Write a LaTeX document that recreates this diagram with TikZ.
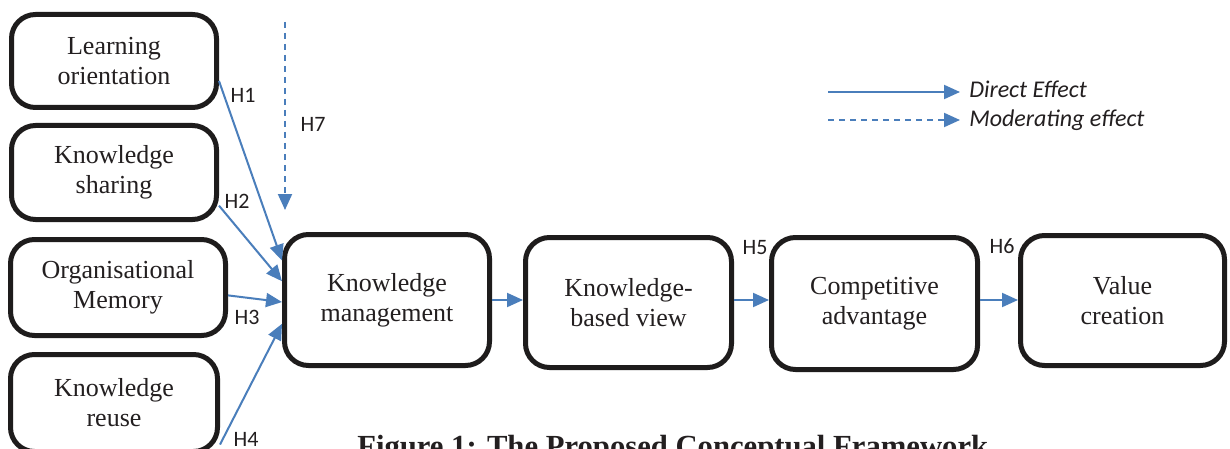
\documentclass[tikz,border=0pt]{standalone}
\usepackage{fontspec}
\setmainfont{Liberation Serif}
\newfontfamily\calib{Carlito}
\usetikzlibrary{arrows.meta,calc}
\definecolor{arrblue}{RGB}{74,126,187}
\definecolor{boxdark}{RGB}{30,28,28}
\definecolor{textdark}{RGB}{35,31,32}
\begin{document}
\begin{tikzpicture}[x=0.75pt,y=-0.75pt,
  box/.style={draw=boxdark, line width=3.75pt, rounded corners=18pt, inner sep=0pt,
    align=center, text=textdark, font=\fontsize{19.5}{22.5}\selectfont},
  arr/.style={draw=arrblue, line width=1.5pt, -{Triangle[length=12pt,width=10.5pt]}},
  modarr/.style={arr, dash pattern=on 4.5pt off 3.75pt},
  lbl/.style={font=\calib\fontsize{16.5}{20}\selectfont, text=textdark, inner sep=0pt},
  legtxt/.style={font=\calib\itshape\fontsize{18}{21}\selectfont, text=textdark, inner sep=0pt, anchor=west}]
\useasboundingbox (0,0) rectangle (1230,449);
\clip (0,0) rectangle (1230,449);
\fill[white] (0,0) rectangle (1230,449);

% boxes
\node[box, minimum width=205*0.75pt, minimum height=93*0.75pt] (LO) at (114,61) {Learning\\orientation};
\node[box, minimum width=205*0.75pt, minimum height=94*0.75pt] (KS) at (114,172.5) {Knowledge\\sharing};
\node[box, minimum width=215*0.75pt, minimum height=96*0.75pt] (OM) at (118,287.5) {Organisational\\Memory};
\node[box, minimum width=207*0.75pt, minimum height=97*0.75pt] (KR) at (114,403) {Knowledge\\reuse};
\node[box, minimum width=205*0.75pt, minimum height=131*0.75pt] (KM) at (387,300) {Knowledge\\management};
\node[box, minimum width=206*0.75pt, minimum height=130*0.75pt] (KBV) at (628.5,302.5) {Knowledge-\\based view};
\node[box, minimum width=206*0.75pt, minimum height=132*0.75pt] (CA) at (874.5,303.5) {Competitive\\advantage};
\node[box, minimum width=204*0.75pt, minimum height=130*0.75pt] (VC) at (1122.5,300.5) {Value\\creation};

% direct effects into KM
\draw[arr] ($(LO.north east)!0.704!(LO.south east)$) -- ($(KM.north west)!0.21!(KM.south west)$);
\draw[arr] ($(KS.north east)!0.835!(KS.south east)$) -- ($(KM.north west)!0.362!(KM.south west)$);
\draw[arr] ($(OM.north east)!0.578!(OM.south east)$) -- ($(KM.north west)!0.515!(KM.south west)$);
\draw[arr] ($(KR.north east)!0.907!(KR.south east)$) -- ($(KM.north west)!0.675!(KM.south west)$);

% chain
\draw[arr] (KM.east) -- (KM.east -| KBV.west);
\draw[arr] (KM.east -| KBV.east) -- (KM.east -| CA.west);
\draw[arr] (KM.east -| CA.east) -- (KM.east -| VC.west);

% moderating
\coordinate (h7s) at (285,22);
\coordinate (h7e) at (285,210);
\draw[modarr] (h7s) -- (h7e);

% labels
\node[lbl] (l1) at (243,95) {H1};
\node[lbl] (l2) at (237,201) {H2};
\node[lbl] (l3) at (247,317) {H3};
\node[lbl] (l4) at (246,439) {H4};
\node[lbl] (l7) at (313,124) {H7};
\node[lbl] (l5) at (755,248) {H5};
\node[lbl] (l6) at (1002,246) {H6};

% legend
\coordinate (ls1) at (828,92);
\coordinate (le1) at (960,92);
\coordinate (ls2) at (828,120);
\coordinate (le2) at (960,120);
\draw[arr] (ls1) -- (le1);
\draw[modarr] (ls2) -- (le2);
\node[legtxt] (lt1) at (969,89) {Direct Effect};
\node[legtxt] (lt2) at (969,120) {Moderating effect};

% caption
\node[anchor=base west, inner sep=0pt, text=textdark, font=\bfseries\fontsize{23}{27}\selectfont] (cap) at (357,456) {Figure 1: The Proposed Conceptual Framework};
\end{tikzpicture}
\end{document}
